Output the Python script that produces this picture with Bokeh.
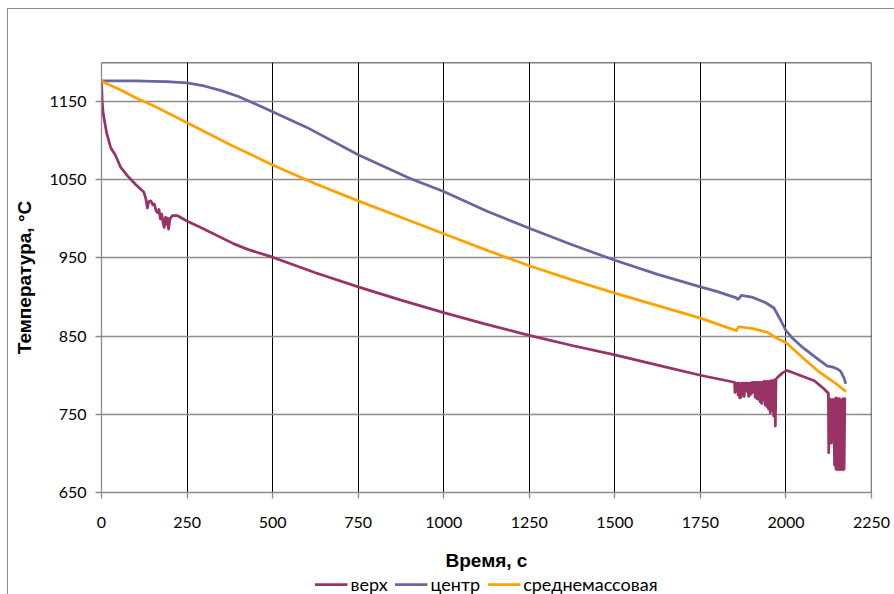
from bokeh.plotting import figure
from bokeh.layouts import column
from bokeh.models import FixedTicker, Span, Legend, LegendItem, Range1d
from bokeh.embed import file_html
from bokeh.resources import INLINE

# ---- data ----
x_ticks = [0, 250, 500, 750, 1000, 1250, 1500, 1750, 2000, 2250]
y_ticks = [650, 750, 850, 950, 1050, 1150]

top_t = [0, 2, 5, 8, 15, 27, 40, 56, 76, 100, 124, 130, 134, 138, 144, 150, 154, 160, 164, 168,
         172, 176, 180, 183, 187, 190, 193, 196, 200, 207, 222, 251, 290, 387, 427, 500, 625,
         750, 875, 1000, 1125, 1250, 1375, 1500, 1625, 1750, 1849,
         1850, 1851, 1853, 1856, 1858, 1860, 1862, 1865, 1867, 1869, 1871, 1874, 1876, 1878,
         1880, 1882, 1884, 1887, 1889, 1891, 1893, 1896, 1898, 1900, 1902, 1905, 1907, 1910,
         1912, 1915, 1917, 1920, 1922, 1925, 1927, 1929, 1931, 1934, 1936, 1939, 1941, 1944,
         1946, 1949, 1951, 1954, 1956, 1959, 1961, 1964, 1966, 1969, 1971, 1975, 1990, 2003,
         2010, 2040, 2083, 2110, 2124, 2125, 2127, 2131, 2133, 2136, 2140, 2142, 2144, 2146,
         2148, 2150, 2152, 2154, 2156, 2158, 2160, 2162, 2164, 2166, 2168, 2170, 2172, 2174]
top_T = [1176, 1150, 1135, 1127, 1110, 1091, 1082, 1066, 1055, 1044, 1034, 1025, 1014, 1022, 1023,
         1018, 1019, 1010, 1008, 1012, 1000, 1006, 995, 989, 1002, 993, 1001, 987, 1000, 1004,
         1004, 997, 989, 968, 961, 951, 931, 913, 896, 880, 865, 851, 838, 826, 813, 800, 791,
         791, 778, 790, 780, 790, 775, 790, 771, 789, 772, 790, 776, 790, 773,
         790, 782, 790, 779, 790, 773, 790, 775, 790, 777, 791, 779, 791, 772,
         791, 770, 791, 769, 791, 766, 791, 764, 791, 768, 792, 762, 792, 760,
         792, 757, 792, 752, 793, 755, 793, 748, 794, 735, 795, 797, 803, 806,
         805, 800, 793, 783, 777, 701, 770, 768, 713, 769, 768, 685, 770, 680,
         771, 679, 769, 680, 770, 679, 768, 680, 769, 679, 770, 680, 770, 769]

center_t = [0, 50, 100, 150, 190, 250, 300, 350, 400, 450, 500, 600, 750, 900, 1000, 1125, 1250,
            1375, 1500, 1625, 1750, 1800, 1855, 1860, 1870, 1900, 1940, 1965, 1985, 2000, 2020,
            2045, 2080, 2120, 2140, 2150, 2160, 2170, 2175]
center_T = [1176.5, 1176.5, 1176.5, 1176, 1175.5, 1174, 1170, 1164, 1156.5, 1147, 1137, 1117,
            1082, 1052, 1035, 1010, 988, 967, 947, 929, 913, 907, 899, 897, 902, 900, 893, 886,
            870, 857, 847, 837, 825, 812, 810, 808, 805, 796, 789]

mean_t = [0, 50, 100, 150, 200, 250, 375, 500, 625, 750, 875, 1000, 1125, 1250, 1375, 1500, 1625,
          1750, 1855, 1862, 1900, 1945, 1970, 2000, 2050, 2092, 2141, 2170, 2175]
mean_T = [1176, 1166, 1155, 1145, 1134, 1123, 1095, 1069, 1045, 1023, 1002, 981, 960, 940, 922,
          905, 889, 873, 857, 862, 860, 855, 848, 842, 822, 806, 791, 781, 779]

labels = ["верх", "центр", "среднемассовая"]
colors = ["#993366", "#6666A3", "#FFA200"]
LW = 2.75

# ---- main figure ----
p = figure(width=886, height=565, x_range=Range1d(0, 2250), y_range=Range1d(650, 1200),
           output_backend="svg", toolbar_location=None,
           min_border_left=93, min_border_top=53, min_border_right=23, min_border_bottom=82)
p.outline_line_color = None
p.background_fill_color = "white"
p.border_fill_color = "white"

p.xaxis.ticker = FixedTicker(ticks=x_ticks)
p.yaxis.ticker = FixedTicker(ticks=y_ticks)
p.xgrid.ticker = FixedTicker(ticks=x_ticks[1:])
p.ygrid.ticker = FixedTicker(ticks=y_ticks[1:])
p.xgrid.grid_line_color = "#000000"
p.xgrid.grid_line_width = 1
p.ygrid.grid_line_color = "#8c8c8c"
p.ygrid.grid_line_width = 1.3

p.add_layout(Span(location=1200, dimension="width", line_color="#000000", line_width=1.3))
p.add_layout(Span(location=2250, dimension="height", line_color="#000000", line_width=1.3))

for ax in (p.xaxis, p.yaxis):
    ax.axis_line_color = "#8c8c8c"
    ax.axis_line_width = 1.3
    ax.major_tick_line_color = "#8c8c8c"
    ax.major_tick_line_width = 1.3
    ax.major_tick_out = 6
    ax.major_tick_in = 0
    ax.minor_tick_line_color = None
    ax.major_label_text_font = "Lato"
    ax.major_label_text_font_size = "16px"
    ax.major_label_text_color = "#000000"
    ax.axis_label_text_font = "Liberation Sans"
    ax.axis_label_text_font_style = "bold"
    ax.axis_label_text_font_size = "19px"
    ax.axis_label_text_color = "#000000"

p.xaxis.axis_label = "Время, с"
p.yaxis.axis_label = "Температура, °C"
p.xaxis.major_label_standoff = 18
p.yaxis.major_label_standoff = 9
p.xaxis.axis_label_standoff = 19
p.yaxis.axis_label_standoff = 11

p.line(top_t, top_T, line_color=colors[0], line_width=LW, line_join="round")
p.line(center_t, center_T, line_color=colors[1], line_width=LW, line_join="round")
p.line(mean_t, mean_T, line_color=colors[2], line_width=LW, line_join="round")

# ---- legend strip (same line styles, legend only; NaN data draws nothing) ----
q = figure(width=886, height=20, x_range=Range1d(0, 1), y_range=Range1d(0, 1),
           output_backend="svg", toolbar_location=None,
           x_axis_type=None, y_axis_type=None,
           min_border_left=69, min_border_right=0, min_border_top=0, min_border_bottom=0)
q.outline_line_color = None
q.xgrid.visible = False
q.ygrid.visible = False
items = []
for lab, col in zip(labels, colors):
    r = q.line([float("nan")], [float("nan")], line_color=col, line_width=LW)
    items.append(LegendItem(label=lab, renderers=[r]))
legend = Legend(items=items, orientation="horizontal", location="center")
legend.border_line_color = None
legend.background_fill_alpha = 0
legend.label_text_font = "Lato"
legend.label_text_font_size = "18px"
legend.label_text_color = "#000000"
legend.glyph_width = 33
legend.glyph_height = 16
legend.label_height = 16
legend.label_standoff = 3
legend.spacing = 7
legend.padding = 0
legend.margin = 0
q.add_layout(legend)

layout = column(p, q, spacing=0)
layout.styles = {"margin-left": "7px", "margin-top": "8px",
                 "border-left": "1px solid #8a8a8a", "border-top": "1px solid #8a8a8a"}

open("out.html", "w").write(file_html(layout, INLINE))
